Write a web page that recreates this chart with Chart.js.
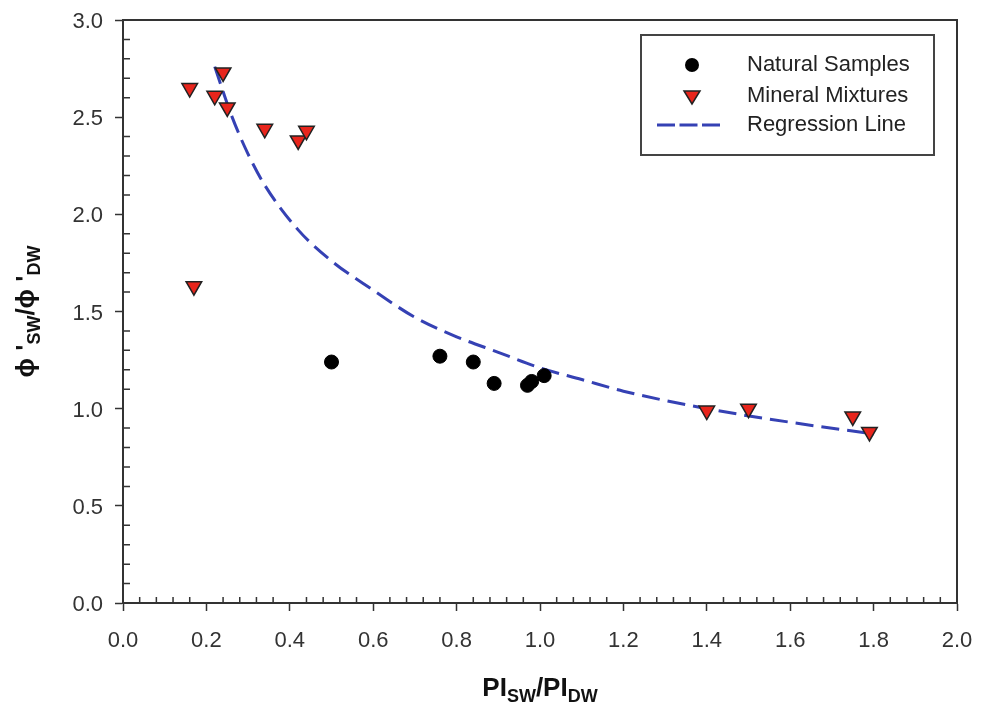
<!DOCTYPE html>
<html>
<head>
<meta charset="utf-8">
<script src="https://cdn.jsdelivr.net/npm/chart.js@4.4.1/dist/chart.umd.min.js"></script>
<style>
  body { margin: 0; background: #fff; }
  canvas { display: block; }
</style>
</head>
<body>
<canvas id="chart" width="992" height="710"></canvas>
<script>
// values
const naturalX = [0.50, 0.76, 0.84, 0.89, 0.97, 0.98, 1.01];
const naturalY = [1.24, 1.27, 1.24, 1.13, 1.12, 1.14, 1.17];

const mineralX = [0.16, 0.17, 0.22, 0.24, 0.25, 0.34, 0.42, 0.44, 1.40, 1.50, 1.75, 1.79];
const mineralY = [2.65, 1.63, 2.61, 2.73, 2.55, 2.44, 2.38, 2.43, 0.99, 1.00, 0.96, 0.88];

const regressionX = [0.22, 0.26, 0.30, 0.34, 0.42, 0.50, 0.60, 0.70, 0.80, 0.90, 1.00, 1.10, 1.20, 1.40, 1.60, 1.80];
const regressionY = [2.76, 2.51, 2.31, 2.15, 1.92, 1.76, 1.61, 1.47, 1.37, 1.29, 1.21, 1.15, 1.09, 1.00, 0.93, 0.87];

const xTicks = [0.0, 0.2, 0.4, 0.6, 0.8, 1.0, 1.2, 1.4, 1.6, 1.8, 2.0];
const yTicks = [0.0, 0.5, 1.0, 1.5, 2.0, 2.5, 3.0];

const legendLabels = ['Natural Samples', 'Mineral Mixtures', 'Regression Line'];

const FONT = '"Liberation Sans", Arial, sans-serif';
const AXIS = '#333';
const RED = '#e8251c';
const BLUE = '#3541b4';

const toPoints = (xs, ys) => xs.map((x, i) => ({ x: x, y: ys[i] }));

// minor ticks inside, top/right frame, legend box and the axis titles with subscripts
const decorations = {
  id: 'decorations',
  afterDraw(chart) {
    const ctx = chart.ctx;
    const a = chart.chartArea;
    const xs = chart.scales.x, ys = chart.scales.y;
    ctx.save();
    ctx.strokeStyle = AXIS;
    ctx.lineWidth = 2;
    ctx.beginPath();
    ctx.moveTo(a.left, a.top);
    ctx.lineTo(a.right, a.top);
    ctx.lineTo(a.right, a.bottom);
    ctx.stroke();

    ctx.lineWidth = 1.5;
    ctx.beginPath();
    for (let i = 1; i < 50; i++) {
      if (i % 5 === 0) continue;
      const px = xs.getPixelForValue(i * 0.04);
      ctx.moveTo(px, a.bottom);
      ctx.lineTo(px, a.bottom - 6);
    }
    for (let i = 1; i < 30; i++) {
      if (i % 5 === 0) continue;
      const py = ys.getPixelForValue(i * 0.1);
      ctx.moveTo(a.left, py);
      ctx.lineTo(a.left + 7, py);
    }
    ctx.stroke();

    // legend
    ctx.lineWidth = 2;
    ctx.strokeStyle = '#444';
    ctx.strokeRect(641, 35, 293, 120);
    const rows = [65, 96, 125];
    ctx.fillStyle = '#000';
    ctx.beginPath();
    ctx.arc(692, rows[0], 7, 0, Math.PI * 2);
    ctx.fill();
    ctx.fillStyle = RED;
    ctx.strokeStyle = '#222';
    ctx.lineWidth = 1.5;
    ctx.beginPath();
    ctx.moveTo(684, rows[1] - 5);
    ctx.lineTo(700, rows[1] - 5);
    ctx.lineTo(692, rows[1] + 8);
    ctx.closePath();
    ctx.fill();
    ctx.stroke();
    ctx.strokeStyle = BLUE;
    ctx.lineWidth = 3;
    ctx.setLineDash([18, 4.5]);
    ctx.beginPath();
    ctx.moveTo(657, rows[2]);
    ctx.lineTo(721, rows[2]);
    ctx.stroke();
    ctx.setLineDash([]);
    ctx.fillStyle = '#222';
    ctx.font = '22px ' + FONT;
    ctx.textBaseline = 'middle';
    legendLabels.forEach((t, i) => ctx.fillText(t, 747, rows[i]));

    // axis titles
    const drawParts = (parts, cx, cy) => {
      let w = 0;
      parts.forEach(p => { ctx.font = 'bold ' + p[1] + 'px ' + FONT; w += ctx.measureText(p[0]).width; });
      let x = cx - w / 2;
      ctx.textBaseline = 'alphabetic';
      parts.forEach(p => {
        ctx.font = 'bold ' + p[1] + 'px ' + FONT;
        ctx.fillText(p[0], x, cy + p[2]);
        x += ctx.measureText(p[0]).width;
      });
    };
    ctx.fillStyle = '#111';
    drawParts([['PI', 26, 0], ['SW', 18, 6], ['/PI', 26, 0], ['DW', 18, 6]], (a.left + a.right) / 2, 696);

    ctx.translate(34, (a.top + a.bottom) / 2);
    ctx.rotate(-Math.PI / 2);
    drawParts([['\u03d5 \'', 26, 0], ['SW', 18, 6], ['/\u03d5 \'', 26, 0], ['DW', 18, 6]], 0, 0);
    ctx.restore();
  }
};

new Chart(document.getElementById('chart'), {
  type: 'scatter',
  data: {
    datasets: [
      {
        label: legendLabels[2],
        data: toPoints(regressionX, regressionY),
        showLine: true,
        borderColor: BLUE,
        borderWidth: 3,
        borderDash: [18, 8],
        cubicInterpolationMode: 'monotone',
        pointRadius: 0,
        order: 3
      },
      {
        label: legendLabels[0],
        data: toPoints(naturalX, naturalY),
        backgroundColor: '#000',
        borderColor: '#000',
        pointRadius: 7,
        order: 2
      },
      {
        label: legendLabels[1],
        data: toPoints(mineralX, mineralY),
        pointStyle: 'triangle',
        rotation: 180,
        backgroundColor: RED,
        borderColor: '#222',
        borderWidth: 1.5,
        pointRadius: 9,
        order: 1
      }
    ]
  },
  options: {
    responsive: false,
    animation: false,
    layout: { padding: { top: 20, right: 35, left: 0, bottom: 0 } },
    plugins: { legend: { display: false }, tooltip: { enabled: false } },
    scales: {
      x: {
        type: 'linear',
        min: 0,
        max: 2,
        afterBuildTicks: s => { s.ticks = xTicks.map(v => ({ value: v })); },
        afterFit: s => { s.height = 107; },
        ticks: {
          callback: v => v.toFixed(1),
          font: { size: 22, family: FONT },
          color: AXIS,
          padding: 17,
          maxRotation: 0
        },
        grid: { drawOnChartArea: false, color: AXIS, tickLength: 8, tickWidth: 1.5 },
        border: { color: AXIS, width: 2 }
      },
      y: {
        min: 0,
        max: 3,
        afterBuildTicks: s => { s.ticks = yTicks.map(v => ({ value: v })); },
        afterFit: s => { s.width = 123; },
        ticks: {
          callback: v => v.toFixed(1),
          font: { size: 22, family: FONT, lineHeight: 0.6 },
          color: AXIS,
          padding: 12,
          labelOffset: 2
        },
        grid: { drawOnChartArea: false, color: AXIS, tickLength: 8, tickWidth: 1.5 },
        border: { color: AXIS, width: 2 }
      }
    }
  },
  plugins: [decorations]
});
</script>
</body>
</html>
